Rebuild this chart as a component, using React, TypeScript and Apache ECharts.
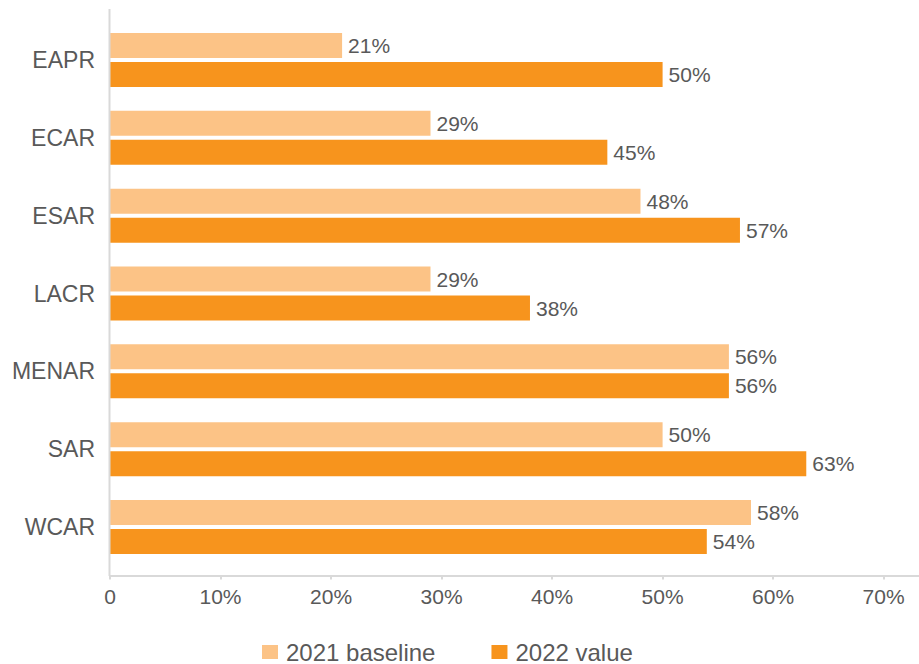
import React, { useEffect, useRef } from "react";
import * as echarts from "echarts";

const categories = ["EAPR", "ECAR", "ESAR", "LACR", "MENAR", "SAR", "WCAR"];
const baseline2021 = [21, 29, 48, 29, 56, 50, 58];
const value2022 = [50, 45, 57, 38, 56, 63, 54];
const tickValues = [0, 10, 20, 30, 40, 50, 60, 70];
const seriesNames = ["2021 baseline", "2022 value"];

const TEXT = "#595959";
const FONT = "Liberation Sans";

export default function App() {
  const ref = useRef<HTMLDivElement>(null);
  useEffect(() => {
    if (!ref.current) return;
    const chart = echarts.init(ref.current, undefined, { renderer: "svg" });
    const labelStyle = {
      show: true,
      position: "right",
      distance: 6,
      formatter: (p: any) => `${p.value}%`,
      color: TEXT,
      fontFamily: FONT,
      fontSize: 21,
    };
    chart.setOption({
      animation: false,
      textStyle: { fontFamily: FONT },
      grid: { left: 110, right: 0, top: 21, height: 545 },
      legend: {
        left: 262,
        top: 640,
        padding: 0,
        itemWidth: 16,
        itemHeight: 14,
        itemGap: 56,
        icon: "rect",
        textStyle: {
          color: TEXT,
          fontSize: 24,
          lineHeight: 22,
          fontFamily: FONT,
          padding: [0, 0, 0, 3],
        },
        data: seriesNames,
      },
      xAxis: {
        type: "value",
        min: 0,
        max: 73.2,
        offset: 9.5,
        splitLine: { show: false },
        axisLine: { show: true, lineStyle: { color: "#D9D9D9", width: 2 } },
        axisTick: {
          show: true,
          length: 4,
          customValues: tickValues,
          lineStyle: { color: "#D9D9D9", width: 2 },
        },
        axisLabel: {
          customValues: tickValues,
          formatter: (v: number) => (v === 0 ? "0" : `${v}%`),
          color: TEXT,
          fontSize: 21,
          fontFamily: FONT,
          margin: 10,
        },
      },
      yAxis: {
        type: "category",
        inverse: true,
        data: categories,
        axisLine: { show: false },
        axisTick: { show: false },
        axisLabel: { color: TEXT, fontSize: 23, fontFamily: FONT, margin: 15 },
      },
      graphic: [
        {
          type: "line",
          shape: { x1: 109.5, y1: 9, x2: 109.5, y2: 576 },
          style: { stroke: "#D9D9D9", lineWidth: 2 },
          z: 10,
        },
      ],
      series: [
        {
          name: seriesNames[0],
          type: "bar",
          data: baseline2021,
          barWidth: 25,
          barGap: "16%",
          itemStyle: { color: "#FCC386" },
          label: labelStyle,
        },
        {
          name: seriesNames[1],
          type: "bar",
          data: value2022,
          barWidth: 25,
          barGap: "16%",
          itemStyle: { color: "#F7941D" },
          label: labelStyle,
        },
      ],
    });
    return () => chart.dispose();
  }, []);
  return (
    <div
      ref={ref}
      style={{ position: "absolute", left: 0, top: 0, width: 919, height: 664 }}
    />
  );
}
